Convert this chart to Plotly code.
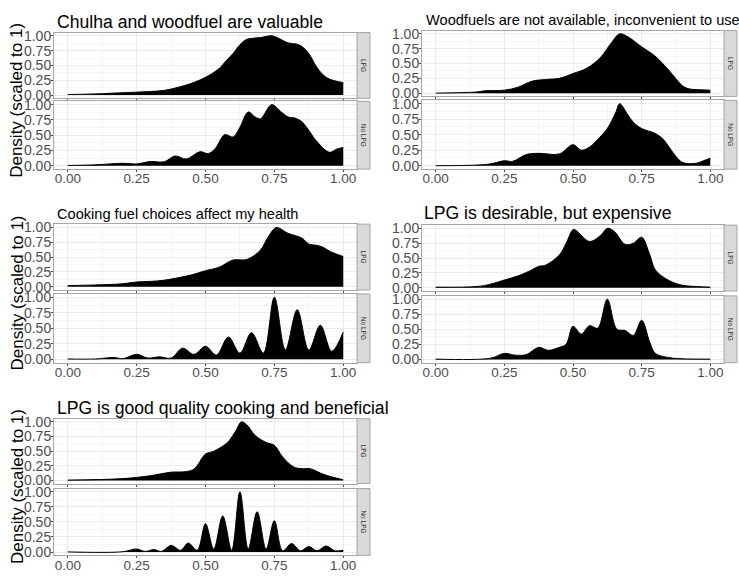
import plotly.graph_objects as go

# ---------------- data ----------------
titles = [
    "Chulha and woodfuel are valuable",
    "Woodfuels are not available, inconvenient to use",
    "Cooking fuel choices affect my health",
    "LPG is desirable, but expensive",
    "LPG is good quality cooking and beneficial",
]
facet_labels = ["LPG", "No LPG"]
x_ticks = [0.0, 0.25, 0.5, 0.75, 1.0]
x_tick_text = ["0.00", "0.25", "0.50", "0.75", "1.00"]
y_ticks = [0.0, 0.25, 0.5, 0.75, 1.0]
y_tick_text = ["0.00", "0.25", "0.50", "0.75", "1.00"]

p1_lpg_x = [0, 0.1, 0.2, 0.25, 0.3, 0.35, 0.4, 0.45, 0.5, 0.55, 0.575, 0.6, 0.625, 0.65, 0.675, 0.7, 0.74, 0.76, 0.8, 0.83, 0.85, 0.875, 0.9, 0.925, 0.95, 1.0]
p1_lpg_y = [0.01, 0.02, 0.04, 0.05, 0.06, 0.08, 0.13, 0.2, 0.3, 0.45, 0.58, 0.7, 0.85, 0.94, 0.96, 0.97, 1.0, 0.97, 0.88, 0.86, 0.82, 0.7, 0.5, 0.35, 0.27, 0.21]
p1_no_x = [0, 0.1, 0.2, 0.25, 0.3, 0.35, 0.39, 0.43, 0.48, 0.51, 0.535, 0.57, 0.6, 0.625, 0.655, 0.68, 0.7, 0.74, 0.775, 0.8, 0.825, 0.85, 0.875, 0.9, 0.95, 0.975, 1.0]
p1_no_y = [0.005, 0.015, 0.04, 0.03, 0.07, 0.065, 0.16, 0.11, 0.23, 0.2, 0.28, 0.51, 0.47, 0.63, 0.88, 0.8, 0.77, 1.0, 0.88, 0.8, 0.78, 0.72, 0.58, 0.42, 0.22, 0.27, 0.3]

p2_lpg_x = [0, 0.1, 0.15, 0.18, 0.25, 0.3, 0.35, 0.4, 0.45, 0.5, 0.55, 0.6, 0.64, 0.67, 0.7, 0.75, 0.8, 0.85, 0.9, 0.925, 0.95, 1.0]
p2_lpg_y = [0.0, 0.01, 0.02, 0.04, 0.05, 0.1, 0.2, 0.23, 0.25, 0.33, 0.42, 0.6, 0.85, 1.0, 0.95, 0.78, 0.62, 0.38, 0.12, 0.07, 0.06, 0.05]
p2_no_x = [0, 0.15, 0.2, 0.25, 0.28, 0.33, 0.375, 0.45, 0.5, 0.53, 0.56, 0.6, 0.625, 0.655, 0.67, 0.7, 0.72, 0.75, 0.8, 0.83, 0.85, 0.875, 0.9, 0.95, 0.975, 1.0]
p2_no_y = [0.0, 0.01, 0.03, 0.08, 0.07, 0.18, 0.2, 0.19, 0.34, 0.25, 0.3, 0.47, 0.6, 0.85, 1.0, 0.82, 0.7, 0.6, 0.52, 0.42, 0.3, 0.15, 0.05, 0.04, 0.08, 0.12]

p3_lpg_x = [0, 0.1, 0.2, 0.25, 0.3, 0.35, 0.4, 0.45, 0.5, 0.55, 0.6, 0.65, 0.7, 0.725, 0.75, 0.76, 0.8, 0.85, 0.875, 0.9, 0.925, 0.95, 1.0]
p3_lpg_y = [0.02, 0.03, 0.05, 0.08, 0.09, 0.11, 0.15, 0.2, 0.27, 0.33, 0.45, 0.46, 0.62, 0.82, 0.98, 1.0, 0.9, 0.82, 0.72, 0.7, 0.67, 0.6, 0.51]
p3_no_x = [0, 0.1, 0.167, 0.2, 0.25, 0.29, 0.333, 0.375, 0.417, 0.458, 0.5, 0.54, 0.583, 0.625, 0.667, 0.71, 0.75, 0.79, 0.833, 0.875, 0.917, 0.958, 1.0]
p3_no_y = [0.005, 0.005, 0.03, 0.01, 0.08, 0.02, 0.04, 0.02, 0.18, 0.08, 0.21, 0.07, 0.36, 0.1, 0.43, 0.1, 1.0, 0.15, 0.8, 0.15, 0.55, 0.13, 0.44]

p4_lpg_x = [0, 0.15, 0.2, 0.25, 0.3, 0.35, 0.375, 0.4, 0.45, 0.475, 0.5, 0.51, 0.56, 0.6, 0.625, 0.65, 0.69, 0.72, 0.75, 0.78, 0.8, 0.85, 0.9, 0.95, 1.0]
p4_lpg_y = [0.01, 0.02, 0.06, 0.13, 0.2, 0.3, 0.36, 0.38, 0.55, 0.75, 0.98, 0.97, 0.78, 0.88, 1.0, 0.95, 0.73, 0.75, 0.85, 0.55, 0.3, 0.12, 0.04, 0.02, 0.01]
p4_no_x = [0, 0.2, 0.25, 0.29, 0.33, 0.375, 0.41, 0.45, 0.475, 0.5, 0.53, 0.56, 0.59, 0.625, 0.66, 0.69, 0.72, 0.75, 0.78, 0.8, 0.85, 0.9, 1.0]
p4_no_y = [0.005, 0.02, 0.1, 0.07, 0.08, 0.2, 0.15, 0.2, 0.25, 0.55, 0.42, 0.56, 0.52, 1.0, 0.5, 0.48, 0.4, 0.65, 0.28, 0.1, 0.03, 0.01, 0.005]

p5_lpg_x = [0, 0.2, 0.3, 0.375, 0.43, 0.46, 0.5, 0.53, 0.58, 0.61, 0.63, 0.65, 0.68, 0.72, 0.75, 0.78, 0.82, 0.85, 0.88, 0.93, 1.0]
p5_lpg_y = [0.005, 0.03, 0.08, 0.14, 0.15, 0.2, 0.45, 0.5, 0.65, 0.85, 1.0, 0.95, 0.77, 0.65, 0.6, 0.4, 0.23, 0.2, 0.2, 0.1, 0.01]
p5_no_x = [0, 0.2, 0.25, 0.28, 0.3125, 0.34, 0.375, 0.41, 0.4375, 0.47, 0.5, 0.53, 0.5625, 0.595, 0.625, 0.655, 0.6875, 0.72, 0.75, 0.78, 0.8125, 0.845, 0.875, 0.905, 0.9375, 0.97, 1.0]
p5_no_y = [0.002, 0.005, 0.05, 0.01, 0.04, 0.01, 0.11, 0.03, 0.15, 0.03, 0.47, 0.05, 0.6, 0.03, 1.0, 0.05, 0.67, 0.05, 0.52, 0.02, 0.14, 0.02, 0.09, 0.02, 0.1, 0.02, 0.03]

curves = [
    (p1_lpg_x, p1_lpg_y, p1_no_x, p1_no_y),
    (p2_lpg_x, p2_lpg_y, p2_no_x, p2_no_y),
    (p3_lpg_x, p3_lpg_y, p3_no_x, p3_no_y),
    (p4_lpg_x, p4_lpg_y, p4_no_x, p4_no_y),
    (p5_lpg_x, p5_lpg_y, p5_no_x, p5_no_y),
]

# ---------------- layout geometry (pixels) ----------------
W, H = 739, 579
# (left, right, upper_top, upper_bottom, lower_top, lower_bottom, title_y, title_x, title_size, show_ytitle)
panels = [
    (54, 357, 28, 95, 98, 167, 17, 55, 17.6, True),
    (422, 724, 26, 93, 97, 167, 15, 424, 14.6, False),
    (54, 357, 223, 290, 294, 364, 213, 55, 14.6, True),
    (422, 724, 224, 291, 296, 364, 212, 422, 17.6, False),
    (54, 357, 421, 487, 492, 560, 410, 55, 17.6, True),
]
STRIP_W = 13
FONT = "Liberation Sans, Arial, sans-serif"
BORDER = "#a6a6a6"

fig = go.Figure()
layout = dict(
    width=W, height=H, margin=dict(l=0, r=0, t=0, b=0),
    paper_bgcolor="white", plot_bgcolor="white", showlegend=False,
    font=dict(family=FONT),
)
shapes, annotations = [], []

def px_x(v):
    return v / W

def px_y(v):
    return 1 - v / H

ax = 0
for i, (l, r, ut, ub, lt, lb, ty, tx, tsize, show_yt) in enumerate(panels):
    lx, ly, nx, ny = curves[i]
    for j, (xs, ys, top, bot) in enumerate([(lx, ly, ut, ub), (nx, ny, lt, lb)]):
        ax += 1
        xa = "x" if ax == 1 else f"x{ax}"
        ya = "y" if ax == 1 else f"y{ax}"
        fig.add_trace(go.Scatter(
            x=xs, y=ys, xaxis=xa, yaxis=ya, mode="lines",
            line=dict(color="black", width=1, shape="spline", smoothing=1),
            fill="tozeroy", fillcolor="black", hoverinfo="skip",
        ))
        xkey = "xaxis" if ax == 1 else f"xaxis{ax}"
        ykey = "yaxis" if ax == 1 else f"yaxis{ax}"
        layout[xkey] = dict(
            domain=[px_x(l), px_x(r)], anchor=ya, range=[-0.05, 1.05],
            tickvals=x_ticks, ticktext=x_tick_text, showticklabels=(j == 1),
            ticks="outside", ticklen=2, tickcolor="#4d4d4d", ticklabelstandoff=-5,
            tickfont=dict(size=13.5, color="#4d4d4d", family=FONT),
            showgrid=True, gridcolor="#ebebeb", gridwidth=1,
            minor=dict(tickvals=[0.125, 0.375, 0.625, 0.875], showgrid=True,
                       gridcolor="#f5f5f5", gridwidth=0.6, ticks=""),
            showline=True, linecolor=BORDER, linewidth=1, mirror=True,
            zeroline=False, fixedrange=True,
        )
        layout[ykey] = dict(
            domain=[px_y(bot), px_y(top)], anchor=xa, range=[-0.055, 1.055],
            tickvals=y_ticks, ticktext=y_tick_text,
            ticks="outside", ticklen=2, tickcolor="#4d4d4d", ticklabelstandoff=-3,
            tickfont=dict(size=14, color="#4d4d4d", family=FONT),
            showgrid=True, gridcolor="#ebebeb", gridwidth=1,
            minor=dict(tickvals=[0.125, 0.375, 0.625, 0.875], showgrid=True,
                       gridcolor="#f5f5f5", gridwidth=0.6, ticks=""),
            showline=True, linecolor=BORDER, linewidth=1, mirror=True,
            zeroline=False, fixedrange=True,
        )
        # strip
        shapes.append(dict(
            type="rect", xref="paper", yref="paper",
            x0=px_x(r), x1=px_x(r + STRIP_W), y0=px_y(bot), y1=px_y(top),
            fillcolor="#d9d9d9", line=dict(color=BORDER, width=1), layer="above",
        ))
        annotations.append(dict(
            x=px_x(r + STRIP_W / 2), y=px_y((top + bot) / 2), xref="paper", yref="paper",
            text=facet_labels[j], showarrow=False, textangle=90,
            font=dict(size=6.5, color="#333333", family=FONT),
            xanchor="center", yanchor="middle",
        ))
    # title
    annotations.append(dict(
        x=px_x(tx), y=px_y(ty), xref="paper", yref="paper", text=titles[i],
        showarrow=False, xanchor="left", yanchor="middle",
        font=dict(size=tsize, color="black", family=FONT),
    ))
    if show_yt:
        annotations.append(dict(
            x=px_x(17), y=px_y((ut + lb) / 2), xref="paper", yref="paper",
            text="Density (scaled to 1)", showarrow=False, textangle=-90,
            xanchor="center", yanchor="middle",
            font=dict(size=17, color="black", family=FONT),
        ))

layout["shapes"] = shapes
layout["annotations"] = annotations
fig.update_layout(**layout)
fig.write_html("out.html")
